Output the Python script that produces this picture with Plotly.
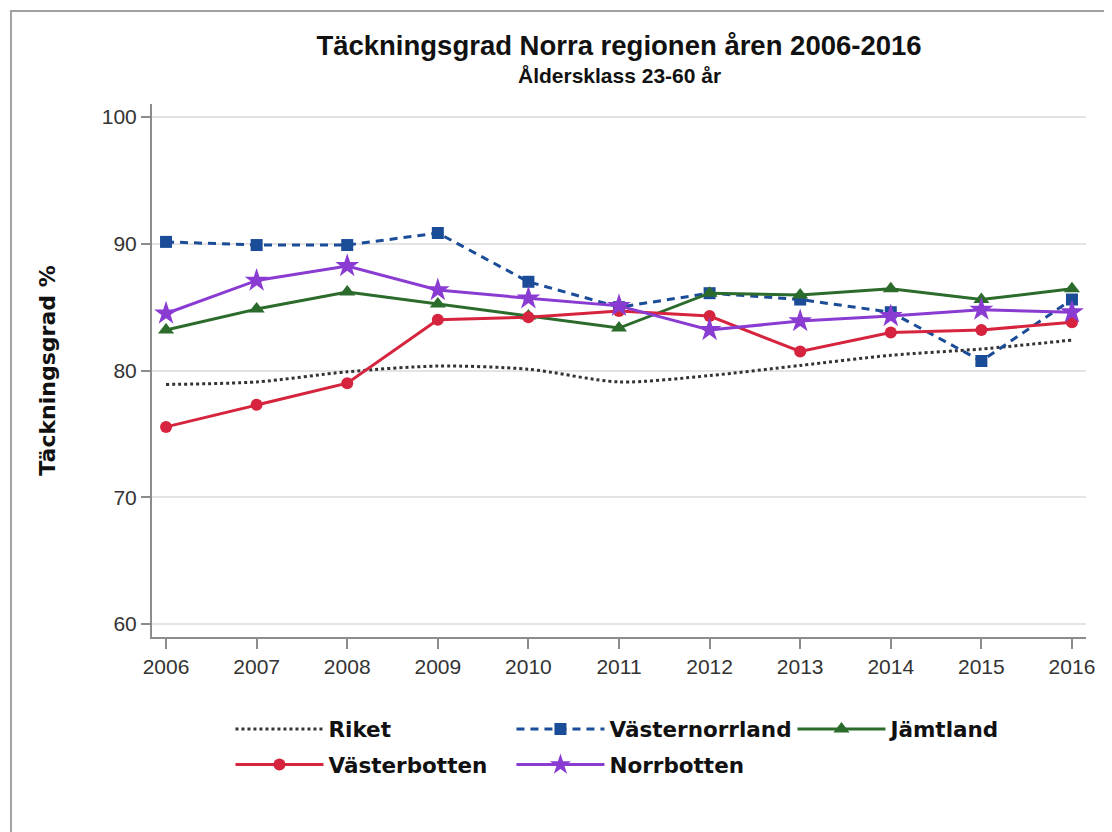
import plotly.graph_objects as go

# Täckningsgrad (%) per län, åldersklass 23-60 år
years = list(range(2006, 2017))
riket = [78.9, 79.1, 79.9, 80.35, 80.1, 79.1, 79.6, 80.4, 81.2, 81.7, 82.4]
vasternorrland = [90.15, 89.9, 89.9, 90.85, 87.0, 85.0, 86.1, 85.6, 84.6, 80.75, 85.6]
jamtland = [83.2, 84.85, 86.2, 85.25, 84.3, 83.35, 86.1, 85.95, 86.45, 85.6, 86.45]
vasterbotten = [75.55, 77.3, 79.0, 84.0, 84.2, 84.7, 84.3, 81.5, 83.0, 83.2, 83.8]
norrbotten = [84.5, 87.1, 88.25, 86.35, 85.7, 85.1, 83.2, 83.9, 84.3, 84.8, 84.6]

BLUE = "#1B4C98"
GREEN = "#2B6B2B"
RED = "#D6243E"
PURPLE = "#8A3CD2"

fig = go.Figure()
fig.add_trace(go.Scatter(x=years, y=riket, name="Riket", mode="lines", legend="legend",
                         line=dict(color="#333333", width=3, dash="dot", shape="spline", smoothing=0.8)))
fig.add_trace(go.Scatter(x=years, y=vasternorrland, name="Västernorrland", mode="lines+markers",
                         legend="legend",
                         line=dict(color=BLUE, width=3, dash="8px,6px"),
                         marker=dict(symbol="square", size=12, color=BLUE)))
fig.add_trace(go.Scatter(x=years, y=jamtland, name="Jämtland", mode="lines+markers", legend="legend",
                         line=dict(color=GREEN, width=3),
                         marker=dict(symbol="triangle-up", size=14, color=GREEN)))
fig.add_trace(go.Scatter(x=years, y=vasterbotten, name="Västerbotten", mode="lines+markers",
                         legend="legend2",
                         line=dict(color=RED, width=3),
                         marker=dict(symbol="circle", size=12, color=RED)))
fig.add_trace(go.Scatter(x=years, y=norrbotten, name="Norrbotten", mode="lines+markers",
                         legend="legend2",
                         line=dict(color=PURPLE, width=3),
                         marker=dict(symbol="star", size=18, color=PURPLE)))

tickfont = dict(family="Liberation Sans, Arial", size=21, color="#333333")
legfont = dict(family="DejaVu Sans", size=21.5, color="#111111", weight="bold")
leg = dict(orientation="h", x=0.084, xanchor="left", yanchor="top",
           entrywidthmode="pixels", entrywidth=178, itemwidth=88, font=legfont)

fig.update_layout(
    width=1104, height=824,
    paper_bgcolor="white", plot_bgcolor="white",
    margin=dict(l=144, r=26, t=96, b=195),
    title=dict(text="<b>Täckningsgrad Norra regionen åren 2006-2016</b>",
               font=dict(family="Liberation Sans, Arial", size=27.5, color="#111111"),
               x=0.5, xref="paper", xanchor="center", y=0.966, yref="container", yanchor="top"),
    xaxis=dict(range=[2005.845, 2016.155], tickvals=years, showgrid=False, zeroline=False,
               showline=True, linecolor="#8c8c8c", linewidth=2,
               ticks="outside", ticklen=10, tickcolor="#8c8c8c", tickwidth=2,
               tickfont=tickfont),
    yaxis=dict(range=[58.97, 101.03], tickvals=[60, 70, 80, 90, 100], showgrid=True,
               gridcolor="#e4e4e4", gridwidth=2, zeroline=False,
               showline=True, linecolor="#8c8c8c", linewidth=2,
               ticks="outside", ticklen=9, tickcolor="#8c8c8c", tickwidth=2,
               tickfont=tickfont,
               title=dict(text="<b>Täckningsgrad %</b>", standoff=40,
                          font=dict(family="DejaVu Sans", size=22, color="#111111"))),
    legend=dict(leg, y=-0.134),
    legend2=dict(leg, y=-0.201),
    annotations=[dict(text="<b>Åldersklass 23-60 år</b>", xref="paper", yref="paper",
                      x=0.5, y=1.054, xanchor="center", yanchor="middle", showarrow=False,
                      font=dict(family="Liberation Sans, Arial", size=21, color="#111111"))],
    shapes=[dict(type="rect", xref="paper", yref="paper", x0=-0.151, x1=1.0268,
                 y0=-0.4, y1=1.1745, line=dict(color="#a0a0a0", width=2), layer="below")],
    showlegend=True,
)

fig.write_html("out.html")
